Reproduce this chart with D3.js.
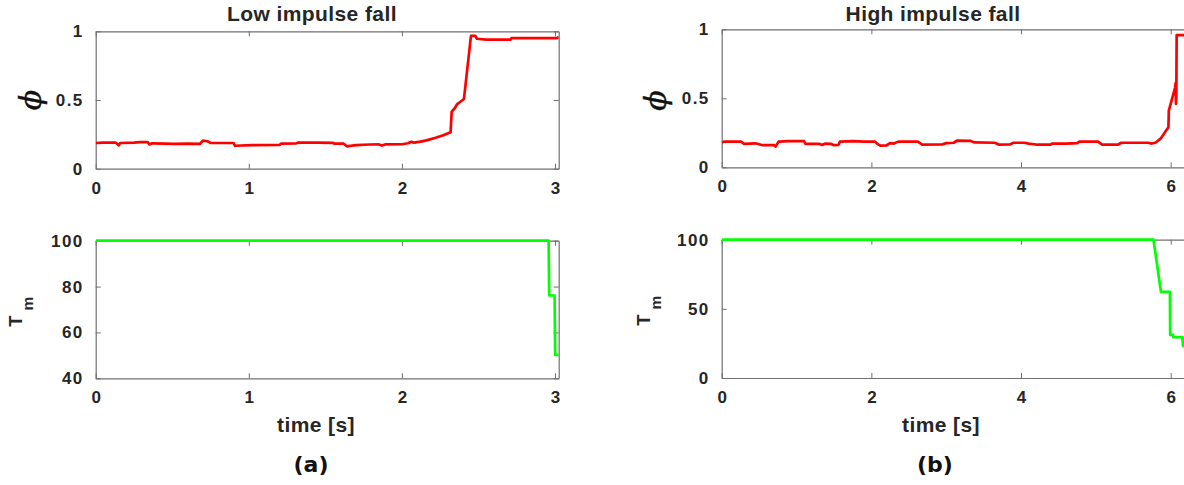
<!DOCTYPE html>
<html>
<head>
<meta charset="utf-8">
<script src="https://cdn.jsdelivr.net/npm/d3@7/dist/d3.min.js"></script>
<style>
  html, body { margin: 0; padding: 0; background: #fff; }
  svg { display: block; }
  .tick text { font-family: "Liberation Sans", Arial, sans-serif; font-weight: bold; font-size: 17px; letter-spacing: 1.4px; fill: #262626; }
  .lbl { font-family: "Liberation Sans", Arial, sans-serif; font-weight: bold; fill: #262626; }
</style>
</head>
<body>
<svg id="chart" width="1184" height="485"></svg>
<script>
// ---- data: low impulse fall ----
const lowPhiTime = [0, 0.05, 0.13, 0.15, 0.16, 0.25, 0.29, 0.34, 0.35, 0.37, 0.45, 0.51, 0.60, 0.68, 0.70, 0.73, 0.75, 0.90, 0.91, 1.02, 1.20, 1.21, 1.31, 1.32, 1.45, 1.55, 1.56, 1.62, 1.64, 1.70, 1.79, 1.85, 1.87, 1.89, 2.00, 2.04, 2.06, 2.08, 2.12, 2.16, 2.22, 2.27, 2.318, 2.325, 2.345, 2.36, 2.405, 2.451, 2.48, 2.49, 2.55, 2.71, 2.715, 3.015, 3.024];
const lowPhi = [0.187, 0.19, 0.19, 0.17, 0.187, 0.19, 0.194, 0.194, 0.177, 0.185, 0.182, 0.18, 0.182, 0.18, 0.204, 0.2, 0.188, 0.187, 0.167, 0.172, 0.173, 0.182, 0.184, 0.19, 0.19, 0.188, 0.182, 0.182, 0.163, 0.172, 0.176, 0.177, 0.168, 0.177, 0.178, 0.185, 0.196, 0.19, 0.197, 0.206, 0.225, 0.243, 0.265, 0.415, 0.44, 0.469, 0.507, 0.966, 0.966, 0.946, 0.939, 0.939, 0.951, 0.951, 0.96];
const lowTmTime = [0, 2.958, 2.962, 2.997, 3.001, 3.024];
const lowTm = [100, 100, 76.1, 76.1, 50.2, 50.2];

// ---- data: high impulse fall ----
const highPhiTime = [0, 0.03, 0.26, 0.30, 0.45, 0.55, 0.70, 0.72, 0.76, 0.90, 1.10, 1.12, 1.30, 1.35, 1.38, 1.46, 1.50, 1.56, 1.58, 1.75, 1.90, 2.05, 2.08, 2.12, 2.20, 2.25, 2.30, 2.36, 2.62, 2.68, 2.95, 3.00, 3.10, 3.15, 3.32, 3.38, 3.65, 3.70, 3.85, 3.90, 4.05, 4.10, 4.20, 4.39, 4.42, 4.60, 4.75, 4.78, 5.03, 5.08, 5.30, 5.34, 5.70, 5.75, 5.80, 5.87, 5.93, 5.97, 5.975, 6.00, 6.03, 6.06, 6.066, 6.07, 6.075, 6.08, 6.30];
const highPhi = [0.179, 0.186, 0.186, 0.17, 0.174, 0.16, 0.16, 0.15, 0.186, 0.19, 0.19, 0.17, 0.17, 0.162, 0.172, 0.17, 0.16, 0.162, 0.186, 0.19, 0.186, 0.186, 0.17, 0.157, 0.158, 0.175, 0.172, 0.186, 0.186, 0.165, 0.166, 0.175, 0.178, 0.194, 0.192, 0.18, 0.178, 0.165, 0.166, 0.178, 0.178, 0.172, 0.165, 0.164, 0.172, 0.172, 0.175, 0.186, 0.186, 0.165, 0.165, 0.178, 0.178, 0.172, 0.18, 0.21, 0.26, 0.29, 0.41, 0.46, 0.52, 0.58, 0.61, 0.46, 0.5, 0.958, 0.958];
const highTmTime = [0, 5.77, 5.87, 5.99, 5.993, 6.03, 6.035, 6.155, 6.165, 6.30];
const highTm = [100, 100, 62.3, 62.3, 31.2, 31.2, 29.5, 29.5, 23.2, 23.2];

// ---- tick values ----
const lowTimeTicks = [0, 1, 2, 3];
const highTimeTicks = [0, 2, 4, 6];
const phiTicks = [0, 0.5, 1];
const phiTickLabels = ["0", "0.5", "1"];
const lowTmTicks = [40, 60, 80, 100];
const highTmTicks = [0, 50, 100];

const svg = d3.select("#chart");
const AXIS = "#707070";

function panel(opt) {
  const x = d3.scaleLinear().domain(opt.xDomain).range([opt.left, opt.right]);
  const y = d3.scaleLinear().domain(opt.yDomain).range([opt.bottom, opt.top]);
  const g = svg.append("g");
  const id = "clip" + Math.round(opt.left) + "_" + Math.round(opt.top);
  svg.append("clipPath").attr("id", id).append("rect")
    .attr("x", opt.left).attr("y", opt.top - 3)
    .attr("width", opt.right - opt.left).attr("height", opt.bottom - opt.top + 6);

  const fmtY = opt.yLabels ? (d, i) => opt.yLabels[i] : d3.format("d");

  const xb = g.append("g").attr("transform", `translate(0,${opt.bottom})`)
    .call(d3.axisBottom(x).tickValues(opt.xTicks).tickFormat(d3.format("d")).tickSizeInner(-5).tickSizeOuter(0).tickPadding(13));
  const xt = g.append("g").attr("transform", `translate(0,${opt.top})`)
    .call(d3.axisTop(x).tickValues(opt.xTicks).tickFormat("").tickSizeInner(-5).tickSizeOuter(0));
  const yl = g.append("g").attr("transform", `translate(${opt.left},0)`)
    .call(d3.axisLeft(y).tickValues(opt.yTicks).tickFormat(fmtY).tickSizeInner(-5).tickSizeOuter(0).tickPadding(12));
  const yr = g.append("g").attr("transform", `translate(${opt.right},0)`)
    .call(d3.axisRight(y).tickValues(opt.yTicks).tickFormat("").tickSizeInner(-5).tickSizeOuter(0));
  [xb, xt, yl, yr].forEach(a => {
    a.selectAll(".domain").attr("stroke", AXIS).attr("stroke-width", 1.2);
    a.selectAll(".tick line").attr("stroke", AXIS).attr("stroke-width", 1);
  });
  // keep the letter-spaced x labels centred on their ticks
  xb.selectAll(".tick text").attr("dx", 0.7);

  const line = d3.line().x(d => x(d[0])).y(d => y(d[1]));
  g.append("path")
    .datum(opt.t.map((t, i) => [t, opt.v[i]]))
    .attr("clip-path", `url(#${id})`)
    .attr("fill", "none").attr("stroke", opt.color).attr("stroke-width", 2.7)
    .attr("stroke-linejoin", "round")
    .attr("d", line);
  return { x, y };
}

// plot frames (the right-hand frame runs past the page edge)
const L = { left: 95.7, right: 558.7 };
const R = { left: 721.7, right: 1195 };
const highMax = (R.right - R.left) / 74.83;

panel({ ...L, top: 31.3, bottom: 168.7, xDomain: [0, 3.024], yDomain: [0, 1],
  xTicks: lowTimeTicks, yTicks: phiTicks, yLabels: phiTickLabels, t: lowPhiTime, v: lowPhi, color: "#ff0000" });
panel({ ...L, top: 240.7, bottom: 378.3, xDomain: [0, 3.024], yDomain: [40, 100],
  xTicks: lowTimeTicks, yTicks: lowTmTicks, t: lowTmTime, v: lowTm, color: "#00ff00" });
panel({ ...R, top: 29.3, bottom: 167.3, xDomain: [0, highMax], yDomain: [0, 1],
  xTicks: highTimeTicks, yTicks: phiTicks, yLabels: phiTickLabels, t: highPhiTime, v: highPhi, color: "#ff0000" });
panel({ ...R, top: 239.7, bottom: 378, xDomain: [0, highMax], yDomain: [0, 100],
  xTicks: highTimeTicks, yTicks: highTmTicks, t: highTmTime, v: highTm, color: "#00ff00" });

// titles
svg.append("text").attr("class", "lbl").attr("x", 312).attr("y", 20.5)
  .attr("text-anchor", "middle").style("font-size", "21px").style("letter-spacing", "0.4px").text("Low impulse fall");
svg.append("text").attr("class", "lbl").attr("x", 933).attr("y", 20.5)
  .attr("text-anchor", "middle").style("font-size", "21px").style("letter-spacing", "0.4px").text("High impulse fall");

// x labels
svg.append("text").attr("class", "lbl").attr("x", 316).attr("y", 432)
  .attr("text-anchor", "middle").style("font-size", "21px").style("letter-spacing", "0.4px").text("time [s]");
svg.append("text").attr("class", "lbl").attr("x", 941).attr("y", 432)
  .attr("text-anchor", "middle").style("font-size", "21px").style("letter-spacing", "0.4px").text("time [s]");

// sub-figure captions
svg.append("text").attr("x", 311).attr("y", 472).attr("text-anchor", "middle")
  .style("font-family", "'DejaVu Sans', sans-serif").style("font-weight", "bold").style("font-size", "22px")
  .attr("fill", "#111").text("(a)");
svg.append("text").attr("x", 935).attr("y", 472).attr("text-anchor", "middle")
  .style("font-family", "'DejaVu Sans', sans-serif").style("font-weight", "bold").style("font-size", "22px")
  .attr("fill", "#111").text("(b)");

// y labels: phi
function phiLabel(cx, cy) {
  svg.append("text").attr("transform", `translate(${cx},${cy}) rotate(-90)`)
    .attr("text-anchor", "middle").attr("dy", "0.35em")
    .style("font-family", "'DejaVu Serif', serif").style("font-style", "italic").style("font-size", "30px")
    .attr("fill", "#111").attr("stroke", "#111").attr("stroke-width", 0.4).text("\u03D5");
}
phiLabel(30, 100);
phiLabel(655, 100.5);

// y labels: T with subscript m
function tmLabel(baseX, bottomY) {
  const t = svg.append("text").attr("class", "lbl")
    .attr("transform", `translate(${baseX},${bottomY}) rotate(-90)`)
    .attr("text-anchor", "start").style("font-size", "18.5px");
  t.append("tspan").text("T");
  t.append("tspan").attr("dx", 5).attr("dy", 11).style("font-size", "15.5px").text("m");
}
tmLabel(22.3, 326.7);
tmLabel(650, 325.7);
</script>
</body>
</html>
